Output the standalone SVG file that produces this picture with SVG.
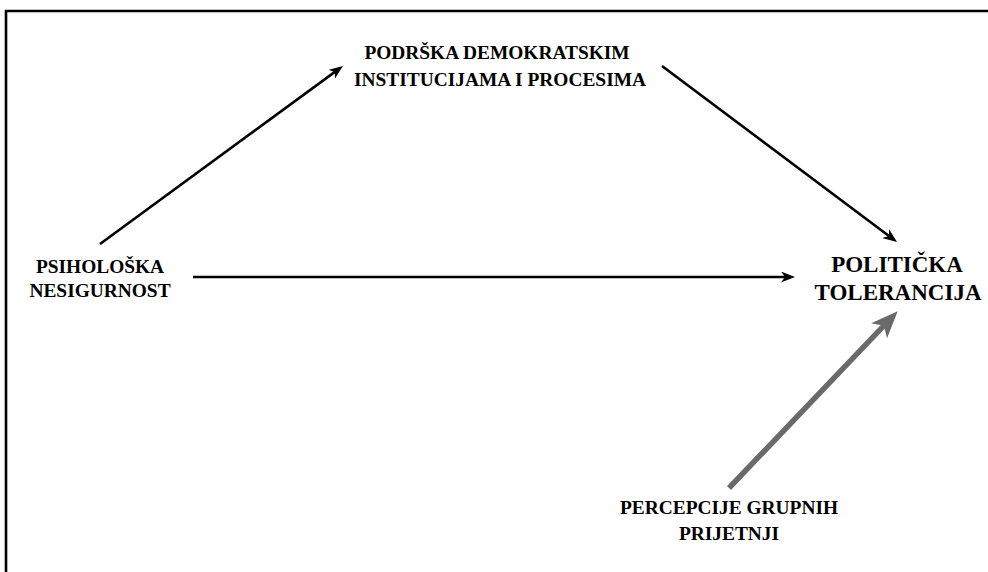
<svg xmlns="http://www.w3.org/2000/svg" width="988" height="572" viewBox="0 0 988 572">
<style>
.lbl{font-family:"Liberation Serif","Times New Roman",serif;font-weight:bold;font-size:19.4px;fill:#000;text-anchor:middle}
.big{font-size:23px}
.ln{stroke:#000;stroke-width:2.6;fill:none}
.gr{stroke:#6a6a6a;stroke-width:5.5;fill:none}
</style>
<defs>
<marker id="ah" markerUnits="userSpaceOnUse" viewBox="0 0 14 11" markerWidth="14" markerHeight="11" refX="4" refY="5.5" orient="auto">
<path d="M0,0 L14,5.5 L0,11 L4,5.5 Z" fill="#000"/>
</marker>
<marker id="ahg" markerUnits="userSpaceOnUse" viewBox="0 0 27 22" markerWidth="27" markerHeight="22" refX="7" refY="11" orient="auto">
<path d="M0,0 L27,11 L0,22 L7,11 Z" fill="#6a6a6a"/>
</marker>
</defs>
<rect width="988" height="572" fill="#fff"/>
<path d="M6,572 L6,11 L988,11" stroke="#000" stroke-width="2.6" fill="none"/>
<g id="connectors">
<line class="ln" x1="100" y1="244" x2="334.9" y2="71.9" marker-end="url(#ah)"/>
<line class="ln" x1="193" y1="277" x2="785" y2="277" marker-end="url(#ah)"/>
<line class="ln" x1="662" y1="66" x2="889" y2="236" marker-end="url(#ah)"/>
<line class="gr" x1="729" y1="488" x2="883.9" y2="325.7" marker-end="url(#ahg)"/>
</g>
<g id="node-podrska">
<text class="lbl" x="497" y="59">PODRŠKA DEMOKRATSKIM</text>
<text class="lbl" x="500" y="86">INSTITUCIJAMA I PROCESIMA</text>
</g>
<g id="node-psiholoska">
<text class="lbl" x="100" y="273">PSIHOLOŠKA</text>
<text class="lbl" x="100" y="297">NESIGURNOST</text>
</g>
<g id="node-politicka">
<text class="lbl big" x="897" y="272">POLITIČKA</text>
<text class="lbl big" x="898" y="300">TOLERANCIJA</text>
</g>
<g id="node-percepcije">
<text class="lbl" x="729" y="514">PERCEPCIJE GRUPNIH</text>
<text class="lbl" x="729" y="540">PRIJETNJI</text>
</g>
</svg>
